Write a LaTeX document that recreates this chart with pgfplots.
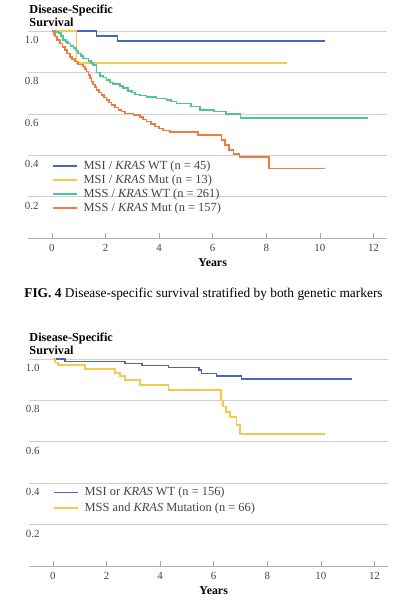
\documentclass[border=0pt]{standalone}
\usepackage{fontspec}
\setmainfont{Liberation Serif}
\usepackage{pgfplots}
\pgfplotsset{compat=1.18}

\definecolor{cblue}{HTML}{4767BF}
\definecolor{cyellow}{HTML}{F8C84E}
\definecolor{cgreen}{HTML}{4CC694}
\definecolor{corange}{HTML}{F07B3C}
\definecolor{gridc}{HTML}{D0D0D0}
\definecolor{tickc}{HTML}{444444}

\pgfplotsset{
 kmaxis/.style={
  scale only axis, width=358.3bp, height=207.3bp,
  xmin=-0.88, xmax=12.49, ymin=0, ymax=1,
  axis x line=bottom, axis y line=left,
  x axis line style={-, draw=gray!60, line width=0.8bp},
  y axis line style={draw=none},
  xtick={0,2,...,12}, ytick={0.2,0.4,0.6,0.8,1.0},
  xtick align=inside, major tick length=5bp,
  xtick style={draw=gray!70, line width=0.6bp},
  ytick style={draw=none},
  ymajorgrids, grid style={draw=gridc, line width=0.8bp},
  tick label style={font=\fontsize{10.9bp}{12bp}\selectfont, text=tickc, inner sep=0pt},
  /pgf/number format/assume math mode=true,
  yticklabel style={anchor=base west, xshift=-1bp, yshift=-12.5bp},
  y tick label style={/pgf/number format/.cd, fixed, fixed zerofill, precision=1},
  xticklabel style={anchor=base, yshift=-13.5bp},
  clip=false,
  every axis plot/.append style={line width=1.6bp},
  legend cell align=left,
  legend image code/.code={\draw[##1] (0bp,0bp) -- (24bp,0bp);},
  legend style={draw=none, fill=none, at={(axis cs:0,0.378)}, anchor=north west,
    inner sep=0pt, column sep=6bp, row sep=2bp,
    font=\fontsize{12.4bp}{14bp}\selectfont, text=tickc,
    nodes={inner sep=0pt, text height=9bp, text depth=3bp}},
 }
}

\begin{document}
\begin{tikzpicture}
\path[use as bounding box] (0,0) rectangle (410bp,-600bp);

% ---------------- Chart 1 ----------------
\begin{axis}[kmaxis, at={(28.3bp,-238.3bp)}, anchor=south west]
\addplot[const plot, cblue] coordinates {(0,1) (1.67,0.976) (2.45,0.952) (10.2,0.952)};
\addlegendentry{MSI / \textit{KRAS} WT (n = 45)}
\addplot[const plot, cyellow] coordinates {(0,1) (0.92,0.847) (8.78,0.847)};
\addlegendentry{MSI / \textit{KRAS} Mut (n = 13)}
\addplot[const plot, cgreen] coordinates {(0,1) (0.12,0.995) (0.24,0.989) (0.33,0.975) (0.42,0.957) (0.52,0.948) (0.61,0.94) (0.7,0.929) (0.8,0.917) (0.9,0.905) (0.98,0.892) (1.08,0.88) (1.17,0.868) (1.36,0.855) (1.45,0.846) (1.54,0.836) (1.67,0.80) (1.79,0.784) (1.92,0.776) (2.04,0.763) (2.17,0.752) (2.29,0.744) (2.54,0.736) (2.66,0.726) (2.85,0.712) (3.0,0.704) (3.1,0.694) (3.28,0.688) (3.53,0.681) (3.9,0.675) (4.28,0.667) (4.45,0.66) (4.65,0.65) (5.2,0.635) (5.52,0.62) (6.04,0.611) (6.49,0.6) (7.04,0.58) (11.78,0.58)};
\addlegendentry{MSS / \textit{KRAS} WT (n = 261)}
\addplot[const plot, corange] coordinates {(0,1) (0.06,0.985) (0.11,0.973) (0.2,0.957) (0.3,0.94) (0.39,0.924) (0.48,0.908) (0.57,0.892) (0.67,0.876) (0.76,0.864) (0.86,0.852) (0.98,0.839) (1.17,0.828) (1.23,0.816) (1.29,0.804) (1.36,0.788) (1.42,0.772) (1.48,0.756) (1.54,0.742) (1.6,0.73) (1.67,0.716) (1.76,0.704) (1.85,0.692) (1.95,0.68) (2.04,0.667) (2.14,0.655) (2.23,0.643) (2.35,0.631) (2.48,0.619) (2.6,0.611) (2.73,0.603) (3.04,0.594) (3.28,0.585) (3.41,0.573) (3.53,0.563) (3.7,0.55) (3.84,0.539) (4.0,0.53) (4.15,0.52) (4.4,0.513) (5.45,0.499) (6.33,0.475) (6.45,0.45) (6.6,0.426) (6.77,0.407) (7.0,0.391) (8.11,0.337) (10.2,0.337)};
\addlegendentry{MSS / \textit{KRAS} Mut (n = 157)}
\node[anchor=base west, inner sep=0pt, xshift=1bp, yshift=18bp, font=\bfseries\fontsize{12.2bp}{14bp}\selectfont] at (axis cs:-0.88,1) {Disease-Specific};
\node[anchor=base west, inner sep=0pt, xshift=1bp, yshift=4.3bp, font=\bfseries\fontsize{12.2bp}{14bp}\selectfont] at (axis cs:-0.88,1) {Survival};
\node[anchor=base, inner sep=0pt, yshift=-28bp, font=\bfseries\fontsize{11.9bp}{14bp}\selectfont] at (axis cs:6,0) {Years};
\end{axis}

\node[anchor=base, inner sep=0pt, font=\fontsize{13.4bp}{15bp}\selectfont] at (203.5bp,-297bp) {\textbf{FIG. 4} Disease-specific survival stratified by both genetic markers};

% ---------------- Chart 2 ----------------
\begin{axis}[kmaxis, height=207bp, at={(29.3bp,-566bp)}, anchor=south west,
  legend style={at={(axis cs:0,0.385)}, row sep=3.7bp}]
\addplot[const plot, cblue] coordinates {(0,1) (0.46,0.988) (2.69,0.979) (3.32,0.968) (4.31,0.958) (5.45,0.946) (5.55,0.93) (6.11,0.919) (7.04,0.902) (11.17,0.902)};
\addlegendentry{MSI or \textit{KRAS} WT (n = 156)}
\addplot[const plot, cyellow] coordinates {(0,1) (0.09,0.984) (0.19,0.971) (1.2,0.951) (2.32,0.933) (2.51,0.917) (2.69,0.898) (3.25,0.873) (4.31,0.849) (6.27,0.80) (6.35,0.77) (6.45,0.745) (6.6,0.72) (6.85,0.68) (6.98,0.637) (10.17,0.637)};
\addlegendentry{MSS and \textit{KRAS} Mutation (n = 66)}
\node[anchor=base west, inner sep=0pt, xshift=0bp, yshift=18bp, font=\bfseries\fontsize{12.2bp}{14bp}\selectfont] at (axis cs:-0.88,1) {Disease-Specific};
\node[anchor=base west, inner sep=0pt, xshift=0bp, yshift=4.3bp, font=\bfseries\fontsize{12.2bp}{14bp}\selectfont] at (axis cs:-0.88,1) {Survival};
\node[anchor=base, inner sep=0pt, yshift=-28bp, font=\bfseries\fontsize{11.9bp}{14bp}\selectfont] at (axis cs:6,0) {Years};
\end{axis}
\end{tikzpicture}
\end{document}
